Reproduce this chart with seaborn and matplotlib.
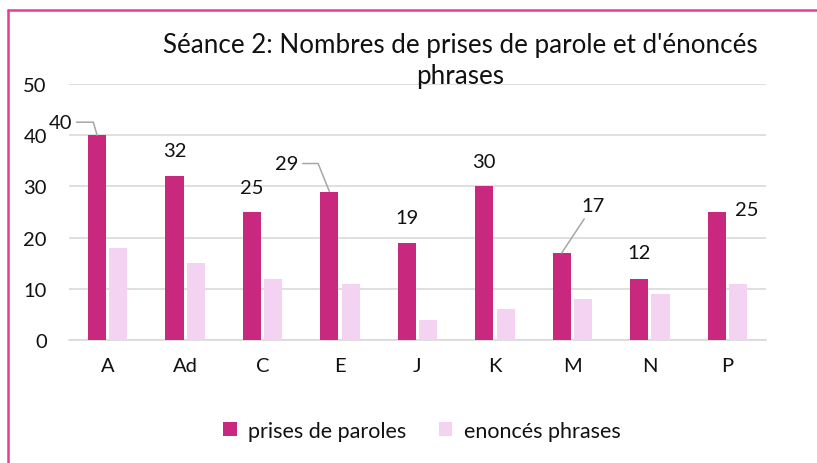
import matplotlib
matplotlib.use("Agg")
import matplotlib.pyplot as plt
import seaborn as sns
import pandas as pd
from matplotlib.lines import Line2D

categories = ['A', 'Ad', 'C', 'E', 'J', 'K', 'M', 'N', 'P']
prises = [40, 32, 25, 29, 19, 30, 17, 12, 25]
enonces = [18, 15, 12, 11, 4, 6, 8, 9, 11]
series_names = ['prises de paroles', 'enoncés phrases']
title = "Séance 2: Nombres de prises de parole et d'énoncés\nphrases"

c_main = '#C9287F'
c_light = '#F4D3F2'
grid_c = '#D9D9D9'

df = pd.DataFrame({
    'cat': categories * 2,
    'val': prises + enonces,
    'serie': [series_names[0]] * len(categories) + [series_names[1]] * len(categories),
})

sns.set_theme(style='white')
plt.rcParams['font.family'] = ['Lato', 'DejaVu Sans']

fig = plt.figure(figsize=(8.17, 4.64), dpi=100)
W, H = 817, 464
ax = fig.add_axes([69 / W, 1 - 341 / H, (766 - 69) / W, (341 - 85) / H])

sns.barplot(data=df, x='cat', y='val', hue='serie', palette=[c_main, c_light],
            width=0.55, gap=0.15, saturation=1, linewidth=0, ax=ax, zorder=3)

ax.set_xlim(-0.5, len(categories) - 0.5)
ax.set_ylim(0, 50)
ax.set_yticks([0, 10, 20, 30, 40, 50])
ax.set_xlabel('')
ax.set_ylabel('')
ax.yaxis.grid(True, color=grid_c, lw=1.2, zorder=0)
ax.set_axisbelow(True)
for s in ['top', 'right', 'left']:
    ax.spines[s].set_visible(False)
ax.spines['bottom'].set_color(grid_c)
ax.spines['bottom'].set_linewidth(1.2)
ax.tick_params(axis='y', length=0, pad=16, labelsize=14.5, labelcolor='#111111')
ax.tick_params(axis='x', length=0, pad=12, labelsize=14.5, labelcolor='#111111')

handles, labels = ax.get_legend_handles_labels()
ax.get_legend().remove()

# label offsets in pixels (dx, dy) relative to top center of main bars
offsets = [(-37, 13), (0, 26), (0, 24), (-43, 28), (0, 25), (0, 25), (31, 47), (0, 26), (30, 2)]
leaders = {0: 'angle,angleA=0,angleB=106', 3: 'angle,angleA=0,angleB=112',
           6: 'arc3,rad=0'}
for i, bar in enumerate(ax.containers[0]):
    x = bar.get_x() + bar.get_width() / 2
    y = bar.get_height()
    dx, dy = offsets[i]
    kw = {}
    if i in leaders:
        kw['arrowprops'] = dict(arrowstyle='-', color='#A6A6A6', lw=1.1,
                                connectionstyle=leaders[i], shrinkA=1, shrinkB=0)
    ax.annotate(f'{int(y)}', xy=(x, y), xytext=(dx, dy), textcoords='offset pixels',
                ha='center', va='center', fontsize=14.5, color='#111111', **kw)

fig.text(460 / W, 1 - 61 / H, title, ha='center', va='center', fontsize=18.7,
         color='#111111', linespacing=1.32)

fig.legend(handles, labels, loc='center', bbox_to_anchor=(422 / W, 1 - 432 / H),
           ncol=2, frameon=False, fontsize=15.5, handlelength=0.62, handleheight=0.62,
           handletextpad=0.55, columnspacing=1.5, labelcolor='#111111')

# outer pink frame (top and left visible)
fig.add_artist(Line2D([8 / W, 1.0], [1 - 11 / H, 1 - 11 / H], color='#E83C96', lw=1.8,
                      transform=fig.transFigure))
fig.add_artist(Line2D([8 / W, 8 / W], [1 - 11 / H, 0.0], color='#E83C96', lw=1.8,
                      transform=fig.transFigure))

fig.savefig('out.png', dpi=100)
